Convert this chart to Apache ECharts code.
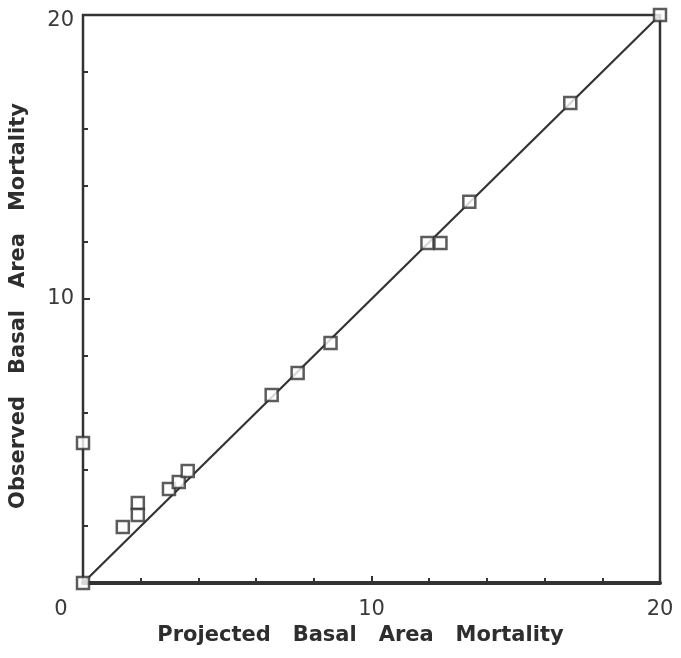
<!DOCTYPE html>
<html>
<head>
<meta charset="utf-8">
<script src="https://cdn.jsdelivr.net/npm/echarts@6/dist/echarts.min.js"></script>
<style>
  html, body { margin: 0; padding: 0; background: #fff; }
  #chart { width: 681px; height: 658px; }
</style>
</head>
<body>
<div id="chart"></div>
<script>
// Projected vs observed basal area mortality
const projected = [0, 0, 1.38, 1.9, 1.9, 2.98, 3.32, 3.63, 6.54, 7.44, 8.58, 11.94, 12.39, 13.39, 16.89, 20];
const observed  = [0, 4.93, 1.97, 2.82, 2.39, 3.31, 3.56, 3.94, 6.62, 7.39, 8.45, 11.97, 11.97, 13.42, 16.9, 20];
// 1:1 reference line end points
const lineX = [0, 20];
const lineY = [0, 20];
const xTitle = 'Projected   Basal   Area   Mortality';
const yTitle = 'Observed   Basal   Area   Mortality';

const ink = '#333';
const labelFont = { fontFamily: 'DejaVu Sans', fontSize: 21, color: '#3a3a3a' };
const titleFont = { fontFamily: 'DejaVu Sans', fontWeight: 'bold', fontSize: 21, color: '#2e2e2e' };
const chart = echarts.init(document.getElementById('chart'));

chart.setOption({
  animation: false,
  backgroundColor: '#fff',
  grid: {
    left: 82, top: 15, width: 578, height: 568,
    show: true, borderColor: ink, borderWidth: 2.5, backgroundColor: 'transparent'
  },
  xAxis: {
    type: 'value', min: 0, max: 20, interval: 10,
    name: xTitle, nameLocation: 'middle', nameGap: 42,
    nameTextStyle: Object.assign({ padding: [0, 22, 0, 0] }, titleFont),
    axisLine: { show: true, lineStyle: { color: ink, width: 4 } },
    axisTick: { show: true, inside: true, length: 7, lineStyle: { color: ink, width: 2 } },
    minorTick: { show: true, splitNumber: 5, length: 5, lineStyle: { color: ink, width: 2 } },
    splitLine: { show: false },
    axisLabel: Object.assign({
      margin: 16,
      formatter: v => v === 0 ? '{z|0}' : String(v),
      rich: { z: Object.assign({ padding: [0, 44, 0, 0] }, labelFont) }
    }, labelFont)
  },
  yAxis: {
    type: 'value', min: 0, max: 20, interval: 10,
    name: yTitle, nameLocation: 'middle', nameGap: 54,
    nameTextStyle: Object.assign({ padding: [0, 14, 0, 0] }, titleFont),
    axisLine: { show: true, lineStyle: { color: ink, width: 2 } },
    axisTick: { show: true, inside: true, length: 7, lineStyle: { color: ink, width: 2 } },
    minorTick: { show: true, splitNumber: 5, length: 5, lineStyle: { color: ink, width: 2 } },
    splitLine: { show: false },
    axisLabel: Object.assign({
      margin: 9,
      formatter: v => v === 0 ? '' : (v === 20 ? '{t|20}' : String(v)),
      rich: { t: Object.assign({ padding: [12, 0, 0, 0] }, labelFont) }
    }, labelFont)
  },
  series: [
    {
      type: 'line',
      data: lineX.map((x, i) => [x, lineY[i]]),
      symbol: 'none',
      lineStyle: { color: ink, width: 2.2 },
      z: 2
    },
    {
      type: 'scatter',
      data: projected.map((x, i) => [x, observed[i]]),
      symbol: 'rect',
      symbolSize: 12,
      itemStyle: { color: '#fff', borderColor: ink, borderWidth: 2.5 },
      z: 3
    }
  ]
});
</script>
</body>
</html>
